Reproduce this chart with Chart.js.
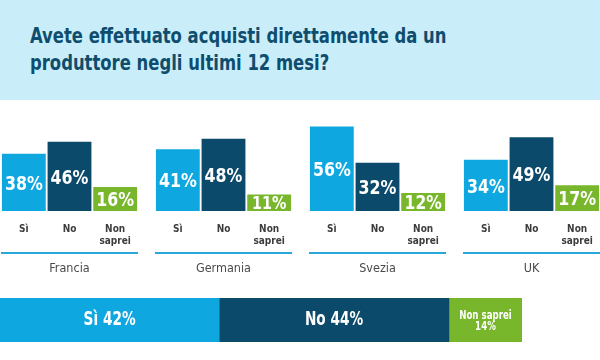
<!DOCTYPE html>
<html><head><meta charset="utf-8">
<script src="https://cdn.jsdelivr.net/npm/chart.js@4"></script>
<style>
html,body{margin:0;padding:0;background:#fff;width:600px;height:360px;overflow:hidden;}
#band{position:absolute;left:0;top:0;width:600px;height:100px;background:#c9edf9;}
#title{position:absolute;left:30px;top:22px;margin:0;white-space:nowrap;font-family:"DejaVu Sans Condensed","Liberation Sans Narrow",sans-serif;font-weight:bold;font-size:22px;line-height:27px;color:#0f4d6e;transform:scaleX(0.83);transform-origin:0 0;}
.grp{position:absolute;top:110px;width:137px;height:170px;}
#total{position:absolute;left:0;top:298px;width:522px;height:44px;}
</style></head><body>
<div id="band"></div>
<h1 id="title">Avete effettuato acquisti direttamente da un<br>produttore negli ultimi 12 mesi?</h1>
<div class="grp" style="left:1px"><canvas id="c0" width="137" height="170"></canvas></div>
<div class="grp" style="left:155px"><canvas id="c1" width="137" height="170"></canvas></div>
<div class="grp" style="left:309px"><canvas id="c2" width="137" height="170"></canvas></div>
<div class="grp" style="left:463px"><canvas id="c3" width="137" height="170"></canvas></div>
<div id="total"><canvas id="ct" width="522" height="44"></canvas></div>
<script>
const categories = ['Sì', 'No', 'Non saprei'];
const tickLabels = [['Sì'], ['No'], ['Non', 'saprei']];
const countries = ['Francia', 'Germania', 'Svezia', 'UK'];
const si = [38, 41, 56, 34];
const no = [46, 48, 32, 49];
const nonSaprei = [16, 11, 12, 17];
const totalLabels = ['Sì', 'No', 'Non saprei'];
const totals = [42, 44, 14];

const colors = ['#0ea7e0', '#0b4a6a', '#78b72c'];
const F = '"DejaVu Sans Condensed","Liberation Sans Narrow",sans-serif';

function narrowText(ctx, text, x, y, sx) {
  ctx.save();
  ctx.translate(x, y);
  ctx.scale(sx, 1);
  ctx.fillText(text, 0, 0);
  ctx.restore();
}

const valueLabels = {
  id: 'valueLabels',
  afterDatasetsDraw(c) {
    const ctx = c.ctx;
    c.data.datasets.forEach((ds, di) => {
      c.getDatasetMeta(di).data.forEach((bar, j) => {
        const v = ds.data[j];
        const h = bar.base - bar.y;
        const size = Math.min(20, h + 1.5);
        ctx.save();
        ctx.font = 'bold ' + size + 'px ' + F;
        ctx.fillStyle = '#ffffff';
        ctx.textAlign = 'center';
        ctx.textBaseline = 'middle';
        narrowText(ctx, v + '%', bar.x, (bar.y + bar.base) / 2 + 2, 0.88);
        ctx.restore();
      });
    });
  }
};

const underline = {
  id: 'underline',
  afterDraw(c) {
    const ctx = c.ctx;
    const y = c.chartArea.bottom + 42;
    ctx.save();
    ctx.strokeStyle = '#2aa7da';
    ctx.lineWidth = 2;
    ctx.beginPath();
    ctx.moveTo(0, y);
    ctx.lineTo(c.width, y);
    ctx.stroke();
    ctx.restore();
  }
};

countries.forEach((country, i) => {
  new Chart(document.getElementById('c' + i), {
    type: 'bar',
    data: {
      labels: tickLabels,
      datasets: [{
        label: country,
        data: [si[i], no[i], nonSaprei[i]],
        backgroundColor: colors,
        borderWidth: 0,
        barPercentage: 0.96,
        categoryPercentage: 1
      }]
    },
    options: {
      responsive: false,
      animation: false,
      devicePixelRatio: 1,
      layout: { padding: 0 },
      plugins: { legend: { display: false }, tooltip: { enabled: false } },
      scales: {
        x: {
          grid: { display: false, drawTicks: true, tickLength: 12 },
          border: { display: false },
          ticks: { font: { family: F, size: 10, weight: 'bold' }, color: '#3c3c3c', padding: 0, maxRotation: 0, autoSkip: false },
          title: { display: true, text: country, font: { family: F, size: 12.5 }, color: '#4a4a4a', padding: { top: 0, bottom: 4 } },
          afterFit(s) { s.height = 69; s.paddingLeft = 0; s.paddingRight = 0; }
        },
        y: { display: false, min: 0, max: 67 }
      }
    },
    plugins: [valueLabels, underline]
  });
});

const totalText = {
  id: 'totalText',
  afterDatasetsDraw(c) {
    const ctx = c.ctx;
    c.data.datasets.forEach((ds, di) => {
      const bar = c.getDatasetMeta(di).data[0];
      const cx = (bar.x + bar.base) / 2;
      const cy = bar.y;
      const w = Math.abs(bar.x - bar.base);
      ctx.save();
      ctx.fillStyle = '#ffffff';
      ctx.textAlign = 'center';
      ctx.textBaseline = 'middle';
      if (w < 100) {
        ctx.font = 'bold 12px ' + F;
        narrowText(ctx, ds.label, cx, cy - 4, 0.8);
        narrowText(ctx, ds.data[0] + '%', cx, cy + 7, 0.8);
      } else {
        ctx.font = 'bold 19px ' + F;
        narrowText(ctx, ds.label + ' ' + ds.data[0] + '%', cx, cy, 0.8);
      }
      ctx.restore();
    });
  }
};

new Chart(document.getElementById('ct'), {
  type: 'bar',
  data: {
    labels: ['Totale'],
    datasets: totalLabels.map((l, k) => ({
      label: l,
      data: [totals[k]],
      backgroundColor: colors[k],
      borderWidth: 0,
      barPercentage: 1,
      categoryPercentage: 1
    }))
  },
  options: {
    indexAxis: 'y',
    responsive: false,
    animation: false,
    devicePixelRatio: 1,
    layout: { padding: 0 },
    plugins: { legend: { display: false }, tooltip: { enabled: false } },
    scales: {
      x: { stacked: true, display: false, min: 0, max: 100 },
      y: { stacked: true, display: false }
    }
  },
  plugins: [totalText]
});
</script>
</body></html>
